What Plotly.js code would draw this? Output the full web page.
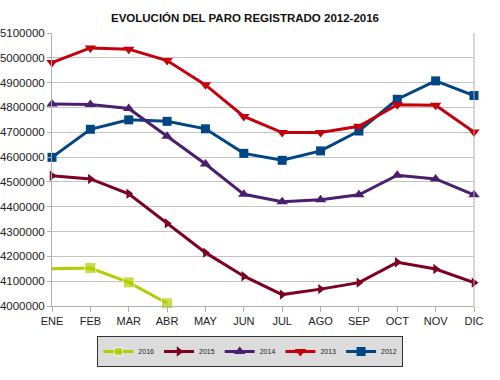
<!DOCTYPE html>
<html>
<head>
<meta charset="utf-8">
<script src="https://cdn.plot.ly/plotly-3.0.1.min.js"></script>
<style>html,body{margin:0;padding:0;background:#fff;}#chart{width:500px;height:380px;}</style>
</head>
<body>
<div id="chart"></div>
<script>
var months = ["ENE","FEB","MAR","ABR","MAY","JUN","JUL","AGO","SEP","OCT","NOV","DIC"];
var y2012 = [4599000,4712000,4750000,4744000,4714000,4615000,4587000,4625000,4705000,4833000,4907000,4848000];
var y2013 = [4981000,5040000,5035000,4989000,4891000,4764000,4699000,4699000,4724000,4811000,4809000,4701000];
var y2014 = [4814000,4812000,4796000,4684000,4572000,4450000,4420000,4428000,4448000,4527000,4512000,4448000];
var y2015 = [4525000,4512000,4452000,4333000,4215000,4120000,4046000,4068000,4094000,4176000,4149000,4094000];
var y2016 = [4150000,4153000,4095000,4011000];
var yTicks = [4000000,4100000,4200000,4300000,4400000,4500000,4600000,4700000,4800000,4900000,5000000,5100000];

function tr(name, y, color, symbol, msize) {
  return {
    type: 'scatter', mode: 'lines+markers', name: name,
    x: months.slice(0, y.length), y: y,
    line: {color: color, width: 3},
    marker: {color: color, symbol: symbol, size: msize},
    cliponaxis: false
  };
}
var data = [
  tr('2012', y2012, '#004586', 'square', 9),
  tr('2013', y2013, '#c5000b', 'triangle-down', 10),
  tr('2014', y2014, '#4b1f6f', 'triangle-up', 10),
  tr('2015', y2015, '#7e0021', 'triangle-right', 9),
  tr('2016', y2016, '#aecf00', 'square', [0,11,11,11])
];
var layout = {
  width: 500, height: 380,
  margin: {l: 52, r: 26, t: 33, b: 74},
  paper_bgcolor: '#fff', plot_bgcolor: '#fff',
  title: {text: '<b>EVOLUCIÓN DEL PARO REGISTRADO 2012-2016</b>', x: 0.49, xanchor: 'center', y: 0.953, yanchor: 'middle',
          font: {family: 'Liberation Sans, Arial, sans-serif', size: 11.5, color: '#111'}},
  xaxis: {
    type: 'category', categoryorder: 'array', categoryarray: months,
    range: [0, 11], showgrid: false, zeroline: false,
    showline: true, linecolor: '#b0b0b0', linewidth: 1, mirror: false,
    ticks: 'outside', ticklen: 5, tickcolor: '#b0b0b0',
    tickfont: {family: 'Liberation Sans, Arial, sans-serif', size: 11, color: '#222'}
  },
  yaxis: {
    range: [4000000, 5100000], tickvals: yTicks, ticktext: yTicks.map(String),
    showgrid: true, gridcolor: '#c4c4c4', gridwidth: 1, zeroline: false,
    showline: true, linecolor: '#b0b0b0', linewidth: 1,
    ticks: 'outside', ticklen: 4, tickcolor: '#b0b0b0',
    tickfont: {family: 'Liberation Sans, Arial, sans-serif', size: 11.5, color: '#222'}
  },
  shapes: [{type: 'line', xref: 'paper', yref: 'paper', x0: 1, x1: 1, y0: 0, y1: 1, line: {color: '#b0b0b0', width: 1}}],
  legend: {
    orientation: 'h', traceorder: 'reversed',
    x: 0.47, xanchor: 'center', y: -0.11, yanchor: 'top',
    bgcolor: '#dcdcdc', bordercolor: '#333', borderwidth: 1,
    font: {family: 'Liberation Sans, Arial, sans-serif', size: 7, color: '#222'},
    itemwidth: 30
  },
  showlegend: true
};
Plotly.newPlot('chart', data, layout, {displayModeBar: false, staticPlot: true});
</script>
</body>
</html>
